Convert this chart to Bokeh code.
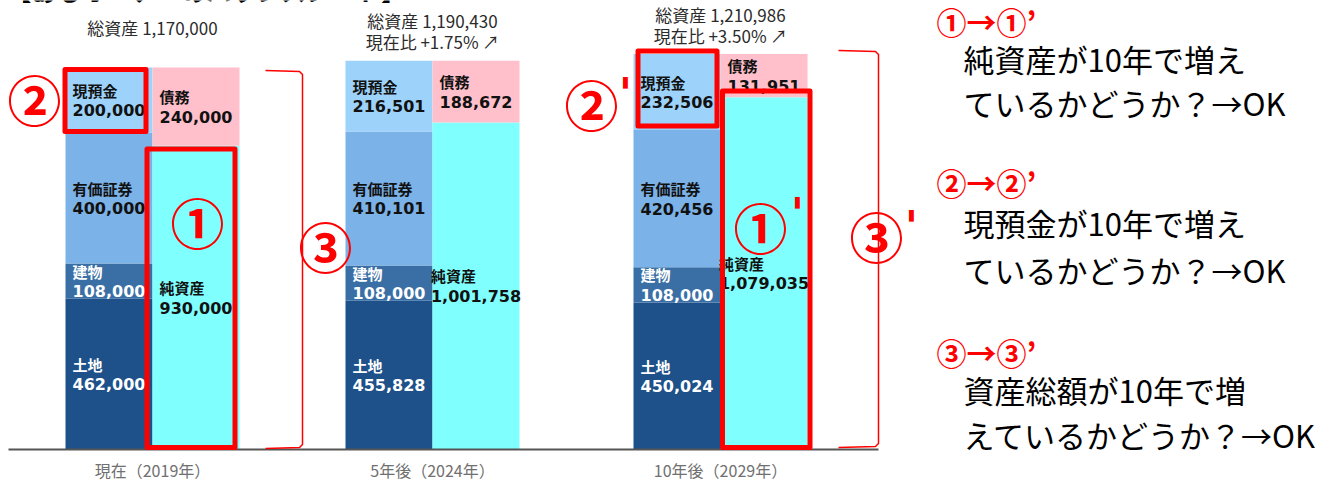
from bokeh.plotting import figure
from bokeh.models import Range1d, ColumnDataSource
from bokeh.core.properties import value
from bokeh.embed import file_html
from bokeh.resources import INLINE

# ---------------- data ----------------
title = "【あるオーナーのバランスシート】"
periods = ["現在（2019年）", "5年後（2024年）", "10年後（2029年）"]
land = [462000, 455828, 450024]
building = [108000, 108000, 108000]
securities = [400000, 410101, 420456]
cash = [200000, 216501, 232506]
debt = [240000, 188672, 131951]
net_assets = [930000, 1001758, 1079035]
total_assets = [1170000, 1190430, 1210986]
change_vs_now = ["", "+1.75%", "+3.50%"]

asset_names = ["土地", "建物", "有価証券", "現預金"]
asset_colors = ["#1E5189", "#3A6FA6", "#7BB2E8", "#9DD3FB"]
asset_text_colors = ["white", "white", "#111111", "#111111"]
liab_names = ["純資産", "債務"]
liab_colors = ["#80FFFF", "#FFC0CB"]

notes = [
    ("①→①’", "純資産が10年で増え", "ているかどうか？→OK"),
    ("②→②’", "現預金が10年で増え", "ているかどうか？→OK"),
    ("③→③’", "資産総額が10年で増", "えているかどうか？→OK"),
]

# ---------------- layout ----------------
W, H = 1319, 480
BASE_Y = 449                 # page pixel row of the zero line
UNIT = 1170000 / 382         # value per pixel
split_x = [152, 432, 720]    # boundary between asset bar and liability bar
BAR_W = 87
CJK = "Noto Sans CJK JP"
RED = "#FF0000"
NUM_FS = 16


def yv(py):
    """page pixel row -> data value"""
    return (BASE_Y - py) * UNIT


p = figure(width=W, height=H, x_range=Range1d(0, W), y_range=Range1d(yv(H), yv(0)),
           x_axis_location=None, y_axis_location=None, toolbar_location=None,
           output_backend="svg", min_border=0, outline_line_color=None)
p.grid.visible = False
p.background_fill_color = "white"
p.border_fill_color = "white"

asset_x = [s - BAR_W / 2 for s in split_x]
liab_x = [s + BAR_W / 2 for s in split_x]


def num_width(s, fs=NUM_FS):
    w = 0
    for ch in s:
        w += 0.38 * fs if ch == "," else 0.696 * fs
    return w


def stack(xs, series_list, names, colors, tcolors):
    bottom = [0, 0, 0]
    for vals, name, col, tc in zip(series_list, names, colors, tcolors):
        top = [b + v for b, v in zip(bottom, vals)]
        p.vbar(x=xs, width=BAR_W, bottom=bottom, top=top, fill_color=col, line_color=None)
        nums = [f"{v:,}" for v in vals]
        lefts = [x - num_width(n) / 2 for x, n in zip(xs, nums)]
        mids = [(b + t) / 2 for b, t in zip(bottom, top)]
        src = ColumnDataSource(dict(x=lefts, yn=[m + 10 * UNIT for m in mids],
                                    yv=[m - 10 * UNIT for m in mids],
                                    name=[name] * 3, num=nums))
        p.text(x="x", y="yn", text="name", source=src, text_font=value(CJK),
               text_font_style="bold", text_font_size="15px", text_color=tc,
               text_align="left", text_baseline="middle")
        p.text(x="x", y="yv", text="num", source=src, text_font=value("DejaVu Sans"),
               text_font_style="bold", text_font_size=f"{NUM_FS}px", text_color=tc,
               text_align="left", text_baseline="middle")
        bottom = top


stack(asset_x, [land, building, securities, cash], asset_names, asset_colors, asset_text_colors)
stack(liab_x, [net_assets, debt], liab_names, liab_colors, ["#111111", "#111111"])

# zero line
p.line(x=[8, 878], y=[0, 0], line_color="#555555", line_width=2)

# title (cut at the top edge, as in the original)
p.text(x=[6], y=[yv(-11)], text=[title], text_font=value(CJK), text_font_style="bold",
       text_font_size="25px", text_color="#000000", text_align="left", text_baseline="middle")

# totals above each sheet
line1 = [f"総資産 {t:,}" for t in total_assets]
line2 = [f"現在比 {c} ↗" if c else "" for c in change_vs_now]
tsrc = ColumnDataSource(dict(x=split_x, y1=[t + 40 * UNIT for t in total_assets],
                             y2=[t + 19 * UNIT for t in total_assets], l1=line1, l2=line2))
for yk, tk in (("y1", "l1"), ("y2", "l2")):
    p.text(x="x", y=yk, text=tk, source=tsrc, text_font=value(CJK), text_font_size="17px",
           text_color="#2b2b2b", text_align="center", text_baseline="middle")

# period labels
p.text(x=split_x, y=[yv(469)] * 3, text=periods, text_font=value(CJK), text_font_size="16px",
       text_color="#707070", text_align="center", text_baseline="middle")

# red highlight boxes  (left, right, top, bottom in page px)
boxes = [(64.5, 145.5, 69, 131), (146.5, 234.5, 148.5, 447),
         (637.5, 716.5, 50.5, 125.5), (722, 809.5, 90.5, 447)]
p.quad(left=[b[0] for b in boxes], right=[b[1] for b in boxes],
       top=[yv(b[2]) for b in boxes], bottom=[yv(b[3]) for b in boxes],
       fill_color=None, line_color=RED, line_width=5, line_join="round")

# brackets
br1x = [265, 299, 302, 302, 299, 265]
br1y = [70, 71, 74, 444, 447, 448]
br3x = [838, 875, 878, 878, 875, 838]
br3y = [50, 51, 54, 443, 446, 447]
p.multi_line(xs=[br1x, br3x], ys=[[yv(v) for v in br1y], [yv(v) for v in br3y]],
             line_color=RED, line_width=1.5)

# circled markers
marks = [("②", 34, 98), ("①", 197, 221), ("③", 325, 245),
         ("②", 591, 103), ("①", 760, 226), ("③", 876, 235)]
p.text(x=[m[1] for m in marks], y=[yv(m[2]) for m in marks], text=[m[0] for m in marks],
       text_font=value(CJK), text_font_style="bold", text_font_size="54px", text_color=RED,
       text_align="center", text_baseline="middle")
primes = [(625, 93), (797, 213), (911, 226)]
p.text(x=[q[0] for q in primes], y=[yv(q[1]) for q in primes], text=["'"] * 3,
       text_font=value("DejaVu Sans"), text_font_style="bold", text_font_size="42px",
       text_color=RED, text_align="center", text_baseline="middle")

# right side notes
head_y = [20, 181, 351]
body_y = [(58, 102), (222, 269), (389, 434)]
p.text(x=[936] * 3, y=[yv(v) for v in head_y], text=[n[0] for n in notes],
       text_font=value(CJK), text_font_style="bold", text_font_size="30px", text_color=RED,
       text_align="left", text_baseline="middle")
p.text(x=[963] * 6, y=[yv(v) for pair in body_y for v in pair],
       text=[t for n in notes for t in n[1:]],
       text_font=value(CJK), text_font_size="31px", text_color="#000000",
       text_align="left", text_baseline="middle")

open("out.html", "w").write(file_html(p, INLINE))
